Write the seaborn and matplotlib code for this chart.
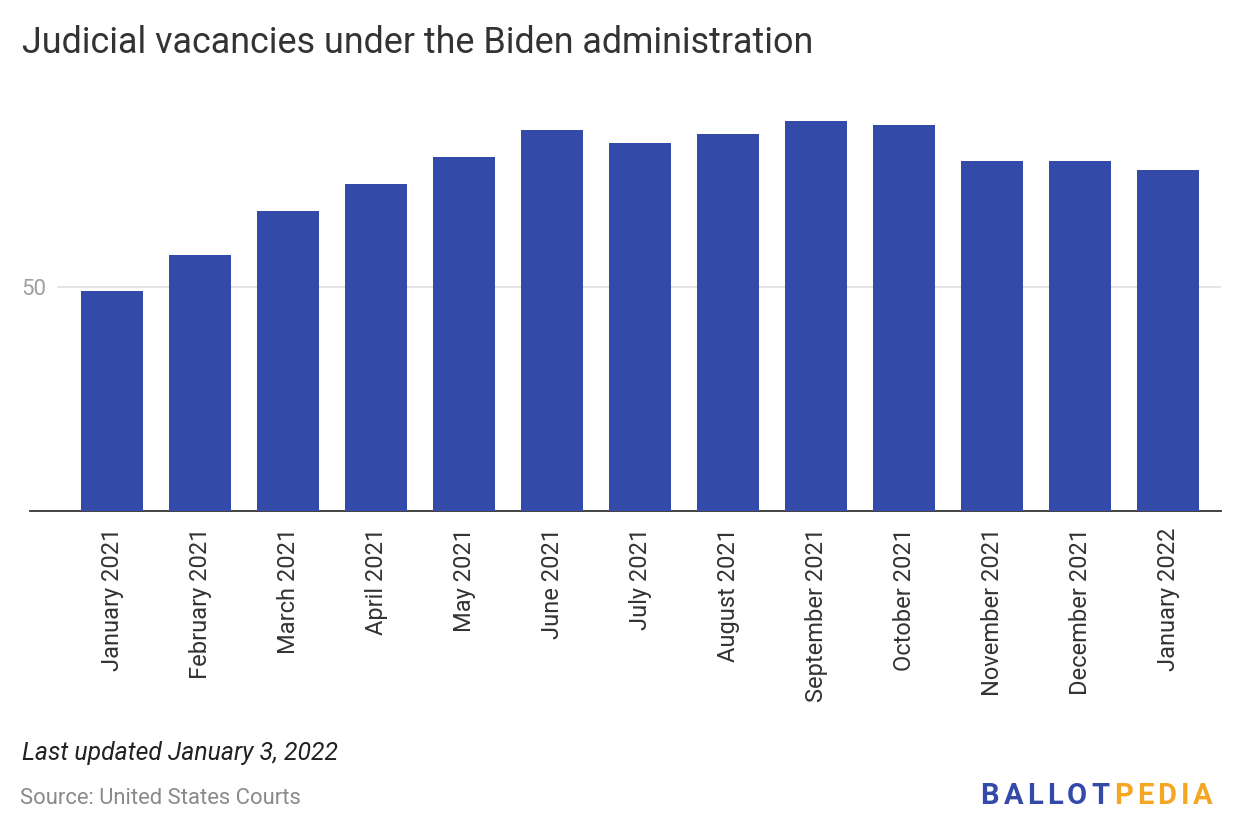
import numpy as np
import pandas as pd
import matplotlib
matplotlib.use("Agg")
import matplotlib.pyplot as plt
import seaborn as sns

months = ["January 2021", "February 2021", "March 2021", "April 2021", "May 2021",
          "June 2021", "July 2021", "August 2021", "September 2021", "October 2021",
          "November 2021", "December 2021", "January 2022"]
vacancies = [49, 57, 67, 73, 79, 85, 82, 84, 87, 86, 78, 78, 76]
yticks = [50]

df = pd.DataFrame({"month": months, "vacancies": vacancies})

sns.set_style("white")
plt.rcParams['font.family'] = ['Roboto', 'DejaVu Sans']

W, H = 1240, 840
fig = plt.figure(figsize=(12.4, 8.4), dpi=100)
ax = fig.add_axes([30 / W, 1 - 511 / H, (1221 - 30) / W, (511 - 95) / H])

sns.barplot(data=df, x="month", y="vacancies", color="#334aa8", width=0.705,
            saturation=1, linewidth=0, ax=ax, zorder=3)

ax.set_xlim(-0.932, 12.602)
ax.set_ylim(0, 92.8)
ax.set_yticks(yticks)
# gridline starts right of the label, as in the original
for t in yticks:
    ax.axhline(t, xmin=(58 - 30) / (1221 - 30), xmax=1, color="#e3e3e3",
               linewidth=1.3, zorder=0)
ax.tick_params(axis="y", length=0, labelsize=16, labelcolor="#a0a0a0", pad=-12)
ax.tick_params(axis="x", length=0, labelsize=17, labelcolor="#333333", pad=12,
               labelrotation=90)
for s in ["top", "right", "left"]:
    ax.spines[s].set_visible(False)
ax.spines["bottom"].set_color("#333333")
ax.spines["bottom"].set_linewidth(1.3)
ax.set_xlabel("")
ax.set_ylabel("")

fig.text(22 / W, 1 - 43 / H, "Judicial vacancies under the Biden administration",
         fontsize=25.8, color="#333333", va="center", ha="left")
fig.text(22 / W, 1 - 753 / H, "Last updated January 3, 2022", fontsize=17.8,
         style="italic", color="#222222", va="center", ha="left")
fig.text(20 / W, 1 - 798 / H, "Source: United States Courts", fontsize=15.8,
         color="#8a8a8a", va="center", ha="left")

# logo, letter by letter with extra spacing, right-aligned at x=1213
logo = [(c, "#334aa8") for c in "BALLOT"] + [(c, "#f5a623") for c in "PEDIA"]
renderer = fig.canvas.get_renderer()
x = 1213
for ch, col in reversed(logo):
    t = fig.text(x / W, 1 - 796 / H, ch, fontsize=21, fontweight="bold",
                 color=col, va="center", ha="right")
    bb = t.get_window_extent(renderer=renderer)
    x = bb.x0 - 4.2

fig.savefig("out.png", dpi=100)
